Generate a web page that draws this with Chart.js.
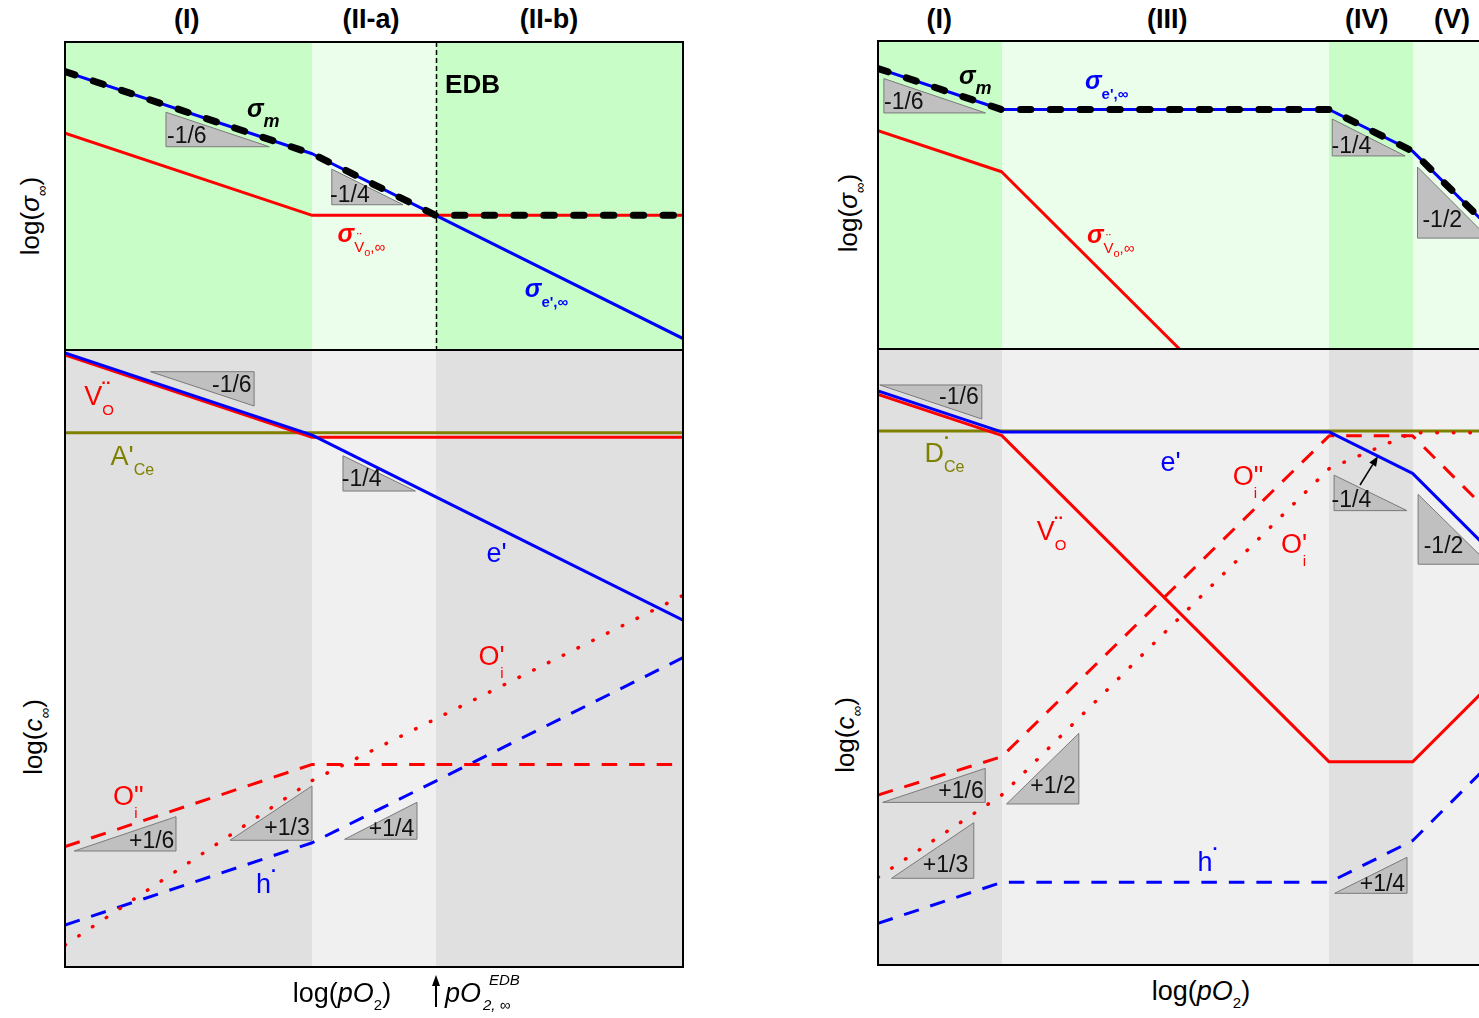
<!DOCTYPE html>
<html>
<head>
<meta charset="utf-8">
<title>Defect chemistry: conductivity and defect concentrations vs log(pO2)</title>
<script src="https://cdn.jsdelivr.net/npm/chart.js@4/dist/chart.umd.min.js"></script>
<style>
html,body{margin:0;padding:0;width:1479px;height:1018px;overflow:hidden;background:#fff}
body{position:relative;font-family:"Liberation Sans",Arial,Helvetica,sans-serif;color:#000}
.pane{position:absolute}
.pane canvas{display:block}
.txt{position:absolute;white-space:nowrap;line-height:1}
.head{font-weight:bold;font-size:27px;transform:translateX(-50%);top:6px}
.ytitle{font-size:26px;transform:translate(-50%,-50%) rotate(-90deg)}
.xtitle{font-size:27px;transform:translateX(-50%)}
sub.s{font-size:15px;vertical-align:-8px;line-height:0}
</style>
</head>
<body>
<div class="pane" style="left:61px;top:38px;width:626px;height:316px"><canvas id="lt"></canvas></div>
<div class="pane" style="left:61px;top:346px;width:626px;height:669px"><canvas id="lb"></canvas></div>
<div class="pane" style="left:874px;top:37px;width:626px;height:316px"><canvas id="rt"></canvas></div>
<div class="pane" style="left:874px;top:345px;width:626px;height:624px"><canvas id="rb"></canvas></div>

<div class="txt ytitle" style="left:30px;top:216px">log(<i>σ</i><sub class="s">∞</sub>)</div>
<div class="txt ytitle" style="left:33px;top:737px">log(<i>c</i><sub class="s">∞</sub>)</div>
<div class="txt ytitle" style="left:848px;top:213px">log(<i>σ</i><sub class="s">∞</sub>)</div>
<div class="txt ytitle" style="left:845px;top:735px">log(<i>c</i><sub class="s">∞</sub>)</div>

<div class="txt xtitle" style="left:342px;top:980px">log(<i>pO</i><sub class="s">2</sub>)</div>
<div class="txt xtitle" style="left:1201px;top:978px">log(<i>pO</i><sub class="s">2</sub>)</div>
<div class="txt" style="left:445px;top:980px;font-size:27px;font-style:italic">pO</div>
<div class="txt" style="left:489px;top:972px;font-size:15px;font-style:italic">EDB</div>
<div class="txt" style="left:483px;top:997px;font-size:15px;font-style:italic">2, ∞</div>

<script>
// ---------- left diagram: regions (I), (II-a), (II-b) ----------
const xLeft = [0, 40, 60, 100];             // log(pO2) break points
const bandsLeft = [0, 40, 60, 100];         // region edges
const regionNamesLeft = ['(I)', '(II-a)', '(II-b)'];
const regionLabelXLeft = [19.7, 49.5, 78.3];
const edbLeft = 60;                         // electrolytic domain boundary

// conductivities (log sigma)
const sigElecLeft = [22.6, 15.93, 10.93, 0.93];
const sigVacLeft  = [17.6, 10.93, 10.93, 10.93];
const sigTotLeft  = [22.6, 15.93, 10.93, 10.93];

// concentrations (log c)
const elecLeft = [49.76, 43.1, 38.1, 28.1];
const vacLeft  = [49.6, 42.93, 42.93, 42.93];
const accLeft  = [43.3, 43.3, 43.3, 43.3];
const oi2Left  = [9.75, 16.42, 16.42, 16.42];
const oi1Left  = [1.78, 15.11, 20.11, 30.11];
const holeLeft = [3.4, 10.07, 15.07, 25.07];

// ---------- right diagram: regions (I), (III), (IV), (V) ----------
const xRight = [0, 20, 73, 86.5, 100];
const bandsRight = [0, 20, 73, 86.5, 100];
const regionNamesRight = ['(I)', '(III)', '(IV)', '(V)'];
const regionLabelXRight = [9.9, 46.8, 79.1, 92.9];

const sigElecRight = [22.77, 19.44, 19.44, 16.06, 9.31];
const sigVacRight  = [17.72, 14.39, -12.11, -12.11, -5.36];
const sigTotRight  = [22.77, 19.44, 19.44, 16.06, 9.31];

const elecRight  = [46.6, 43.27, 43.27, 39.9, 33.15];
const donRight   = [43.35, 43.35, 43.35, 43.35, 43.35];
const vacRight   = [46.32, 42.99, 16.49, 16.49, 23.24];
const oi2Right   = [13.8, 16.9, 42.95, 42.95, 36.2];
const oi1Right   = [7.12, 13.79, 40.29, 43.2, 43.2];
const holeRight  = [3.38, 6.71, 6.71, 10.09, 16.84];

// slope triangles: three corners (x, y) and the slope text
const trisLT = [
  {p: [16.34, 19.3, 16.34, 16.5, 33.07, 16.5], t: '-1/6', at: [16.5, 16.8], al: 'left'},
  {p: [43.17, 14.68, 43.17, 11.79, 54.7, 11.79], t: '-1/4', at: [42.9, 12.0], al: 'left'}
];
const trisLB = [
  {p: [13.86, 48.24, 30.6, 48.24, 30.6, 45.46], t: '-1/6', at: [30.2, 46.6], al: 'right'},
  {p: [44.98, 41.43, 44.98, 38.57, 56.7, 38.57], t: '-1/4', at: [44.8, 38.98], al: 'left'},
  {p: [1.5, 9.4, 17.96, 9.4, 17.96, 12.18], t: '+1/6', at: [17.7, 9.64], al: 'right'},
  {p: [26.7, 10.27, 39.97, 10.27, 39.97, 14.67], t: '+1/3', at: [39.6, 10.7], al: 'right'},
  {p: [45.24, 10.35, 56.96, 10.35, 56.96, 13.35], t: '+1/4', at: [56.5, 10.6], al: 'right'}
];
const trisRT = [
  {p: [0.95, 21.95, 0.95, 19.16, 17.4, 19.16], t: '-1/6', at: [0.97, 19.48], al: 'left'},
  {p: [73.5, 18.67, 73.5, 15.67, 85.3, 15.67], t: '-1/4', at: [73.4, 15.9], al: 'left'},
  {p: [87.3, 14.77, 87.3, 9.0, 98.8, 9.0], t: '-1/2', at: [88.1, 9.9], al: 'left'}
];
const trisRB = [
  {p: [0.3, 47.08, 16.8, 47.08, 16.8, 44.32], t: '-1/6', at: [16.3, 45.54], al: 'right'},
  {p: [73.8, 39.76, 73.8, 36.88, 85.6, 36.88], t: '-1/4', at: [73.4, 37.2], al: 'left'},
  {p: [87.4, 38.2, 87.4, 32.53, 98.9, 32.53], t: '-1/2', at: [88.3, 33.44], al: 'left'},
  {p: [0.75, 13.2, 17.35, 13.2, 17.35, 15.96], t: '+1/6', at: [17.1, 13.56], al: 'right'},
  {p: [2.2, 7.04, 15.5, 7.04, 15.5, 11.55], t: '+1/3', at: [14.6, 7.55], al: 'right'},
  {p: [20.8, 13.07, 32.5, 13.07, 32.5, 18.8], t: '+1/2', at: [32.0, 13.96], al: 'right'},
  {p: [73.9, 5.82, 85.6, 5.82, 85.6, 8.74], t: '+1/4', at: [85.3, 6.0], al: 'right'}
];
// arrow from the -1/4 marker to the e' line (right diagram)
const pointerRB = [78.0, 38.96, 80.9, 41.3];

const RED = '#ff0000', BLUE = '#0000ff', OLIVE = '#808000', BLACK = '#000000';
const GREEN_D = '#c8fdc8', GREEN_L = '#ebfdeb', GRAY_D = '#e0e0e0', GRAY_L = '#f0f0f0';
const FONT = '"Liberation Sans", Arial, Helvetica, sans-serif';

// text segment helper
const S = (t, size, o = {}) => Object.assign({t, size}, o);
const sigma = c => S('σ', 25, {b: 1, it: 1, c});

// in-plot labels (data coordinates of the left end of the baseline)
const labelsLT = [
  {x: 29.45, y: 18.9, c: BLACK, s: [sigma(), S('m', 18, {b: 1, it: 1, dy: 10})]},
  {x: 44.1, y: 8.77, c: RED, s: [sigma(), S('V', 15, {dy: 10}), S('¨', 15, {ov: 1, dy: 1}), S('o', 11, {dy: 14}), S(',∞', 15, {dy: 10})]},
  {x: 74.4, y: 4.3, c: BLUE, s: [sigma(), S("e',∞", 15, {b: 1, dy: 10})]},
  {x: 61.5, y: 20.86, c: BLACK, s: [S('EDB', 26, {b: 1})]}
];
const labelsLB = [
  {x: 3.12, y: 45.54, c: RED, s: [S('V', 27), S('¨', 22, {b: 1, na: 1, dy: -8}), S('O', 15, {dy: 10})]},
  {x: 7.36, y: 40.68, c: OLIVE, s: [S("A'", 27), S('Ce', 16, {dy: 10})]},
  {x: 68.2, y: 32.8, c: BLUE, s: [S("e'", 27)]},
  {x: 66.9, y: 24.47, c: RED, s: [S('O', 27), S("'", 27), S('i', 15, {ov: 1, dy: 13})]},
  {x: 7.77, y: 13.13, c: RED, s: [S('O', 27), S('"', 27), S('i', 15, {ov: 1, dx: -3, dy: 13})]},
  {x: 30.9, y: 6.0, c: BLUE, s: [S('h', 27), S('·', 18, {b: 1, dy: -16})]}
];
const labelsRT = [
  {x: 13.1, y: 21.5, c: BLACK, s: [sigma(), S('m', 18, {b: 1, it: 1, dy: 10})]},
  {x: 33.5, y: 21.1, c: BLUE, s: [sigma(), S("e',∞", 15, {b: 1, dy: 10})]},
  {x: 33.8, y: 8.6, c: RED, s: [sigma(), S('V', 15, {dy: 10}), S('¨', 15, {ov: 1, dy: 1}), S('o', 11, {dy: 14}), S(',∞', 15, {dy: 10})]}
];
const labelsRB = [
  {x: 7.53, y: 40.83, c: OLIVE, s: [S('D', 27), S('·', 18, {b: 1, na: 1, dy: -18}), S('Ce', 16, {dy: 10})]},
  {x: 45.7, y: 40.1, c: BLUE, s: [S("e'", 27)]},
  {x: 25.7, y: 34.5, c: RED, s: [S('V', 27), S('¨', 22, {b: 1, na: 1, dy: -8}), S('O', 15, {dy: 10})]},
  {x: 57.4, y: 39.0, c: RED, s: [S('O', 27), S('"', 27), S('i', 15, {ov: 1, dx: -3, dy: 13})]},
  {x: 65.2, y: 33.44, c: RED, s: [S('O', 27), S("'", 27), S('i', 15, {ov: 1, dy: 13})]},
  {x: 51.7, y: 7.63, c: BLUE, s: [S('h', 27), S('·', 18, {b: 1, dy: -16})]}
];

function fontOf(s) {
  return (s.it ? 'italic ' : '') + (s.b ? 'bold ' : '') + s.size + 'px ' + FONT;
}
function rich(ctx, px, py, segs, color, align) {
  let w = 0;
  for (const s of segs) {
    if (s.ov || s.na) continue;
    ctx.font = fontOf(s);
    w += ctx.measureText(s.t).width + (s.dx || 0);
  }
  let cx = align === 'right' ? px - w : px;
  let prevX = cx, prevW = 0;
  ctx.textAlign = 'left';
  ctx.textBaseline = 'alphabetic';
  for (const s of segs) {
    ctx.font = fontOf(s);
    ctx.fillStyle = s.c || color;
    const sw = ctx.measureText(s.t).width;
    if (s.ov) {
      ctx.fillText(s.t, prevX + (prevW - sw) / 2 + (s.dx || 0), py + (s.dy || 0));
      continue;
    }
    const sx = cx + (s.dx || 0);
    ctx.fillText(s.t, sx, py + (s.dy || 0));
    if (!s.na) { prevX = sx; prevW = sw; cx = sx + sw; }
  }
}

function arrow(ctx, x0, y0, x1, y1, head, half) {
  const a = Math.atan2(y1 - y0, x1 - x0);
  const bx = x1 - head * Math.cos(a), by = y1 - head * Math.sin(a);
  ctx.beginPath(); ctx.moveTo(x0, y0); ctx.lineTo(bx, by); ctx.stroke();
  ctx.beginPath();
  ctx.moveTo(x1, y1);
  ctx.lineTo(bx + half * Math.sin(a), by - half * Math.cos(a));
  ctx.lineTo(bx - half * Math.sin(a), by + half * Math.cos(a));
  ctx.closePath(); ctx.fill();
}

// backgrounds, slope triangles, labels and frame of each panel
Chart.register({
  id: 'panel',
  beforeDatasetsDraw(chart, args, o) {
    const {ctx, chartArea: a, scales: {x, y}} = chart;
    ctx.save();
    for (let i = 0; i < o.bands.length - 1; i++) {
      const x0 = Math.round(x.getPixelForValue(o.bands[i]));
      const x1 = Math.round(x.getPixelForValue(o.bands[i + 1]));
      ctx.fillStyle = o.shades[i];
      ctx.fillRect(x0, a.top, x1 - x0, a.height);
    }
    if (o.vline != null) {
      const px = Math.round(x.getPixelForValue(o.vline)) + 0.5;
      ctx.strokeStyle = BLACK; ctx.lineWidth = 1.5; ctx.setLineDash([5, 3]);
      ctx.beginPath(); ctx.moveTo(px, a.top); ctx.lineTo(px, a.bottom); ctx.stroke();
      ctx.setLineDash([]);
    }
    for (const t of o.tris) {
      const p = t.p;
      ctx.beginPath();
      ctx.moveTo(x.getPixelForValue(p[0]), y.getPixelForValue(p[1]));
      ctx.lineTo(x.getPixelForValue(p[2]), y.getPixelForValue(p[3]));
      ctx.lineTo(x.getPixelForValue(p[4]), y.getPixelForValue(p[5]));
      ctx.closePath();
      ctx.fillStyle = '#c0c0c0'; ctx.fill();
      ctx.strokeStyle = '#7a7a7a'; ctx.lineWidth = 1; ctx.stroke();
    }
    ctx.restore();
  },
  afterDatasetsDraw(chart, args, o) {
    const {ctx, chartArea: a, scales: {x, y}} = chart;
    ctx.save();
    for (const t of o.tris) {
      rich(ctx, x.getPixelForValue(t.at[0]), y.getPixelForValue(t.at[1]), [S(t.t, 23)], '#111', t.al);
    }
    for (const l of o.labels) {
      rich(ctx, x.getPixelForValue(l.x), y.getPixelForValue(l.y), l.s, l.c, 'left');
    }
    if (o.pointer) {
      const q = o.pointer;
      ctx.strokeStyle = BLACK; ctx.fillStyle = BLACK; ctx.lineWidth = 1.5;
      arrow(ctx, x.getPixelForValue(q[0]), y.getPixelForValue(q[1]),
                 x.getPixelForValue(q[2]), y.getPixelForValue(q[3]), 10, 4);
    }
    ctx.strokeStyle = BLACK; ctx.lineWidth = 2;
    ctx.strokeRect(a.left, a.top, a.width, a.height);
    ctx.restore();
  },
  afterDraw(chart, args, o) {
    if (o.marker == null) return;
    const {ctx, chartArea: a, scales: {x}} = chart;
    const px = Math.round(x.getPixelForValue(o.marker));
    ctx.save();
    ctx.strokeStyle = BLACK; ctx.fillStyle = BLACK; ctx.lineWidth = 2;
    arrow(ctx, px, a.bottom + 40, px, a.bottom + 8, 11, 4);
    ctx.restore();
  }
});

function series(xs, ys, color, width, dash, cap, order) {
  return {
    data: xs.map((v, i) => ({x: v, y: ys[i]})),
    borderColor: color, borderWidth: width,
    borderDash: dash || [], borderCapStyle: cap || 'butt', borderJoinStyle: 'round',
    pointRadius: 0, fill: false, tension: 0, clip: 0, order
  };
}
const DASH_TOT = [10.5, 19.3], DASH = [15.5, 12], DOT = [0.5, 16];

function makePanel(id, xr, yr, pad, datasets, panel) {
  return new Chart(document.getElementById(id), {
    type: 'line',
    data: {datasets},
    options: {
      responsive: true, maintainAspectRatio: false, animation: false, events: [],
      layout: {padding: pad},
      plugins: {legend: {display: false}, tooltip: {enabled: false}, title: {display: false}, panel},
      scales: {
        x: {type: 'linear', min: xr[0], max: xr[1], display: false},
        y: {type: 'linear', min: yr[0], max: yr[1], display: false}
      }
    }
  });
}

const P4 = {top: 4, left: 4, right: 4, bottom: 4};

const lt = makePanel('lt', [0, 100], [0, 25], P4, [
  series(xLeft, sigTotLeft, BLACK, 7, DASH_TOT, 'round', 0),
  series(xLeft, sigElecLeft, BLUE, 3, null, null, 1),
  series(xLeft, sigVacLeft, RED, 3, null, null, 2)
], {bands: bandsLeft, shades: [GREEN_D, GREEN_L, GREEN_D], vline: edbLeft, tris: trisLT, labels: labelsLT});

makePanel('lb', [0, 100], [0, 50], {top: 4, left: 4, right: 4, bottom: 48}, [
  series(xLeft, elecLeft, BLUE, 3, null, null, 0),
  series(xLeft, vacLeft, RED, 3, null, null, 1),
  series(xLeft, accLeft, OLIVE, 3, null, null, 2),
  series(xLeft, oi1Left, RED, 3.5, DOT, 'round', 3),
  series(xLeft, oi2Left, RED, 3, DASH, null, 4),
  series(xLeft, holeLeft, BLUE, 3, DASH, null, 5)
], {bands: bandsLeft, shades: [GRAY_D, GRAY_L, GRAY_D], tris: trisLB, labels: labelsLB, marker: edbLeft});

const rt = makePanel('rt', [0, 100], [0, 25], P4, [
  series(xRight, sigTotRight, BLACK, 7, DASH_TOT, 'round', 0),
  series(xRight, sigElecRight, BLUE, 3, null, null, 1),
  series(xRight, sigVacRight, RED, 3, null, null, 2)
], {bands: bandsRight, shades: [GREEN_D, GREEN_L, GREEN_D, GREEN_L], tris: trisRT, labels: labelsRT});

makePanel('rb', [0, 100], [0, 50], P4, [
  series(xRight, elecRight, BLUE, 3, null, null, 0),
  series(xRight, oi1Right, RED, 3.5, DOT, 'round', 1),
  series(xRight, oi2Right, RED, 3, DASH, null, 2),
  series(xRight, vacRight, RED, 3, null, null, 3),
  series(xRight, donRight, OLIVE, 3, null, null, 4),
  series(xRight, holeRight, BLUE, 3, DASH, null, 5)
], {bands: bandsRight, shades: [GRAY_D, GRAY_L, GRAY_D, GRAY_L], tris: trisRB, labels: labelsRB, pointer: pointerRB});

// region headings above each diagram, centred through the x scale
function headings(chart, names, at) {
  const left = chart.canvas.parentNode.offsetLeft;
  names.forEach((n, i) => {
    const d = document.createElement('div');
    d.className = 'txt head';
    d.style.left = (left + chart.scales.x.getPixelForValue(at[i])) + 'px';
    d.textContent = n;
    document.body.appendChild(d);
  });
}
headings(lt, regionNamesLeft, regionLabelXLeft);
headings(rt, regionNamesRight, regionLabelXRight);
</script>
</body>
</html>
